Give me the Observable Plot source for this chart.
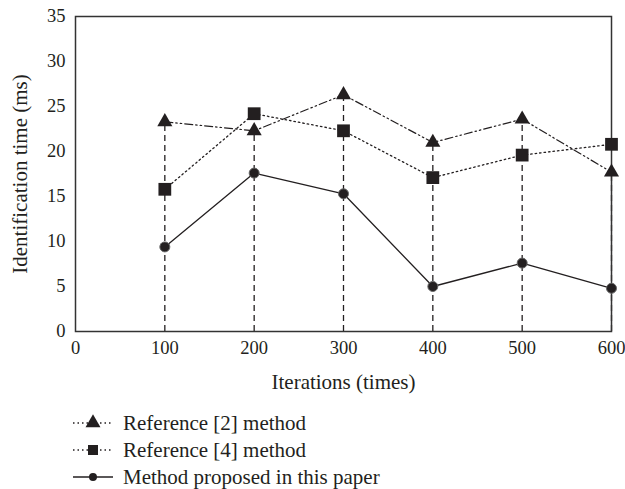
<!DOCTYPE html>
<html>
<head>
<meta charset="utf-8">
<script src="https://cdn.jsdelivr.net/npm/d3@7"></script>
<script src="https://cdn.jsdelivr.net/npm/@observablehq/plot@0.6"></script>
<style>
  html, body { margin: 0; padding: 0; background: #fff; }
  #chart svg { display: block; }
  #legend { display: block; }
</style>
</head>
<body>
<div id="chart"></div>
<svg id="legend" width="625" height="94"></svg>
<script>
const iterations = [100, 200, 300, 400, 500, 600];
const ref2Values = [23.3, 22.3, 26.3, 21.0, 23.6, 17.7];
const ref4Values = [15.8, 24.2, 22.3, 17.1, 19.6, 20.8];
const proposedValues = [9.4, 17.6, 15.3, 5.0, 7.6, 4.8];
const seriesNames = ["Reference [2] method", "Reference [4] method", "Method proposed in this paper"];
const xTicks = [0, 100, 200, 300, 400, 500, 600];
const yTicks = [0, 5, 10, 15, 20, 25, 30, 35];
const xLabel = "Iterations (times)";
const yLabel = "Identification time (ms)";

const ink = "#231f20";
const font = "'Liberation Serif', 'DejaVu Serif', serif";

const ref2 = iterations.map((x, i) => ({x, y: ref2Values[i]}));
const ref4 = iterations.map((x, i) => ({x, y: ref4Values[i]}));
const prop = iterations.map((x, i) => ({x, y: proposedValues[i]}));

const dashDotDot = "8,3,1.5,3,1.5,3";
const dotted = "1.5,3";

const chart = Plot.plot({
  width: 625,
  height: 395,
  marginLeft: 75,
  marginRight: 14,
  marginTop: 16,
  marginBottom: 64,
  style: {fontFamily: font, fontSize: "18.5px", color: ink, background: "#fff"},
  x: {domain: [0, 600], ticks: xTicks},
  y: {domain: [0, 35], ticks: yTicks},
  marks: [
    Plot.axisX({ticks: xTicks, tickSize: 0, tickPadding: 9, label: null, fontSize: 18.5, fill: ink}),
    Plot.axisY({ticks: yTicks, tickSize: 0, tickPadding: 10, label: null, fontSize: 18.5, fill: ink}),
    Plot.ruleX(ref2, {x: "x", y1: 0, y2: "y", stroke: ink, strokeWidth: 1.3, strokeDasharray: "6,4"}),
    Plot.line(ref2, {x: "x", y: "y", stroke: ink, strokeWidth: 1.2, strokeDasharray: dashDotDot}),
    Plot.line(ref4, {x: "x", y: "y", stroke: ink, strokeWidth: 1.3, strokeDasharray: dotted}),
    Plot.line(prop, {x: "x", y: "y", stroke: ink, strokeWidth: 1.3}),
    Plot.frame({stroke: "#333", strokeWidth: 1.5}),
    Plot.dot(ref4, {x: "x", y: "y", symbol: "square", r: 7.2, fill: ink, stroke: "none"}),
    Plot.dot(ref2, {x: "x", y: "y", symbol: "triangle", r: 5.6, fill: ink, stroke: "none"}),
    Plot.dot(prop, {x: "x", y: "y", symbol: "circle", r: 5, fill: ink, stroke: "#666", strokeWidth: 1}),
    Plot.text([xLabel], {frameAnchor: "bottom", dy: 51, text: d => d, fontSize: 21, fill: ink, textAnchor: "middle", lineAnchor: "middle"}),
    Plot.text([yLabel], {frameAnchor: "left", dx: -55, rotate: -90, text: d => d, fontSize: 21, fill: ink, textAnchor: "middle", lineAnchor: "middle"})
  ]
});
document.getElementById("chart").appendChild(chart);

// Legend
const lg = d3.select("#legend").style("font-family", font);
const rows = [
  {name: seriesNames[0], dash: dotted, sym: d3.symbolTriangle, size: 97},
  {name: seriesNames[1], dash: dotted, sym: d3.symbolSquare, size: 100},
  {name: seriesNames[2], dash: null, sym: d3.symbolCircle, size: 50}
];
rows.forEach((r, i) => {
  const cy = 28 + i * 27;
  const g = lg.append("g");
  g.append("line").attr("x1", 73).attr("x2", 113).attr("y1", cy).attr("y2", cy)
    .attr("stroke", ink).attr("stroke-width", 1.3)
    .attr("stroke-dasharray", r.dash);
  g.append("path").attr("d", d3.symbol(r.sym, r.size)())
    .attr("transform", `translate(93,${cy})`).attr("fill", ink);
  g.append("text").attr("x", 123).attr("y", cy).attr("dy", "0.35em")
    .attr("font-size", 21).attr("fill", ink).text(r.name);
});
</script>
</body>
</html>
